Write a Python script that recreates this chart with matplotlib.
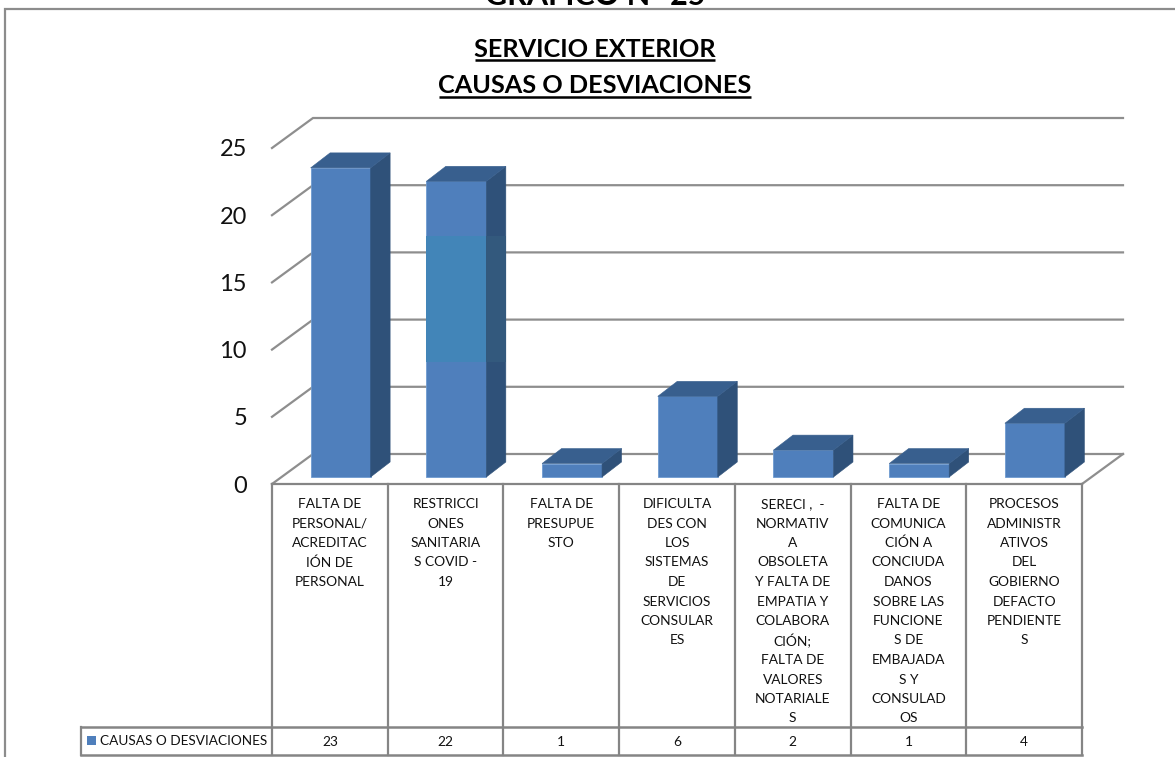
import matplotlib
matplotlib.use("Agg")
import matplotlib.pyplot as plt
from matplotlib.patches import Polygon, Rectangle
from matplotlib.transforms import blended_transform_factory

plt.rcParams['font.family'] = ['Lato', 'DejaVu Sans']

categories = [
    "FALTA DE\nPERSONAL/\nACREDITAC\nIÓN DE\nPERSONAL",
    "RESTRICCI\nONES\nSANITARIA\nS COVID -\n19",
    "FALTA DE\nPRESUPUE\nSTO",
    "DIFICULTA\nDES CON\nLOS\nSISTEMAS\nDE\nSERVICIOS\nCONSULAR\nES",
    "SERECI ,  -\nNORMATIV\nA\nOBSOLETA\nY FALTA DE\nEMPATIA Y\nCOLABORA\nCIÓN;\nFALTA DE\nVALORES\nNOTARIALE\nS",
    "FALTA DE\nCOMUNICA\nCIÓN A\nCONCIUDA\nDANOS\nSOBRE LAS\nFUNCIONE\nS DE\nEMBAJADA\nS Y\nCONSULAD\nOS",
    "PROCESOS\nADMINISTR\nATIVOS\nDEL\nGOBIERNO\nDEFACTO\nPENDIENTE\nS",
]
values = [23, 22, 1, 6, 2, 1, 4]
series_name = "CAUSAS O DESVIACIONES"
y_ticks = [0, 5, 10, 15, 20, 25]
heading = "GRAFICO N° 25"
title_lines = ["SERVICIO EXTERIOR", "CAUSAS O DESVIACIONES"]

W, H = 1175, 757
fig = plt.figure(figsize=(W / 100, H / 100), dpi=100, facecolor="white")

# overlay in image pixels for frame, table and titles
ov = fig.add_axes([0, 0, 1, 1], zorder=3)
ov.set_xlim(0, W)
ov.set_ylim(H, 0)
ov.axis("off")
ov.patch.set_alpha(0)

# plotting axes: front plane of the chart
L, R, Y0, Y25 = 272, 1082, 484, 148
ax = fig.add_axes([L / W, 1 - Y0 / H, (R - L) / W, (Y0 - Y25) / H], zorder=2)
ax.set_xlim(0, len(values))
ax.set_ylim(0, 25)
ax.patch.set_alpha(0)
for s in ax.spines.values():
    s.set_visible(False)
ax.set_xticks([])
ax.set_yticks(y_ticks)
ax.tick_params(axis="y", length=0, pad=18, labelsize=17, labelcolor="#111111")

px_x = len(values) / (R - L)
px_y = 25 / (Y0 - Y25)
wall_dx, wall_dy = 41 * px_x, 30 * px_y
bar_dx, bar_dy = 19.5 * px_x, 15 * px_y
inset = 7 * px_y
bar_w = 60 * px_x
bar_off = 0.593

GRID = "#8e8e8e"
FRONT, SIDE, TOP = "#4f7fbc", "#2f5179", "#385f8e"
BAND_FRONT, BAND_SIDE = "#4285b8", "#33597d"

# walls and floor
for t in y_ticks:
    ax.plot([0, wall_dx, len(values) + wall_dx], [t, t + wall_dy, t + wall_dy],
            color=GRID, lw=1.6, clip_on=False, zorder=1, solid_joinstyle="miter")
ax.plot([len(values) + wall_dx, len(values)], [wall_dy, 0], color=GRID, lw=1.6,
        clip_on=False, zorder=1)

# bars
for i, v in enumerate(values):
    x0 = i + bar_off - bar_w / 2
    x1 = x0 + bar_w
    b, t = inset, inset + v
    ax.bar(i + bar_off, v, width=bar_w, bottom=inset, color=FRONT,
           edgecolor="#6f9bd0", linewidth=0.6, zorder=4, clip_on=False)
    ax.add_patch(Polygon([(x1, b), (x1 + bar_dx, b + bar_dy), (x1 + bar_dx, t + bar_dy), (x1, t)],
                         closed=True, facecolor=SIDE, edgecolor=SIDE, lw=0.4, zorder=4, clip_on=False))
    ax.add_patch(Polygon([(x0, t), (x0 + bar_dx, t + bar_dy), (x1 + bar_dx, t + bar_dy), (x1, t)],
                         closed=True, facecolor=TOP, edgecolor=TOP, lw=0.4, zorder=4, clip_on=False))

# lighter band visible on the second bar
band_lo, band_hi = 8.56, 17.93
x1b = 1 + bar_off + bar_w / 2
ax.bar(1 + bar_off, band_hi - band_lo, width=bar_w, bottom=band_lo + inset, color=BAND_FRONT, zorder=5)
ax.add_patch(Rectangle((x1b, band_lo + inset), bar_dx, band_hi - band_lo,
                       facecolor=BAND_SIDE, edgecolor="none", zorder=5))

# table
T_TOP, T_ROW, T_BOT, T_LEFT = 484, 727, 755, 81
TC = "#858585"
edges = [L + k * (R - L) / len(values) for k in range(len(values) + 1)]
ov.plot([L, R], [T_TOP, T_TOP], color=TC, lw=1.6)
for e in edges:
    ov.plot([e, e], [T_TOP, T_BOT], color=TC, lw=1.6)
for y in (T_ROW, T_BOT):
    ov.plot([T_LEFT, R], [y, y], color=TC, lw=1.8)
ov.plot([T_LEFT, T_LEFT], [T_ROW, T_BOT], color=TC, lw=1.6)

TXT = "#111111"
tr = blended_transform_factory(ax.transData, ov.transData)
for i, (c, v) in enumerate(zip(categories, values)):
    for k, line in enumerate(c.split("\n")):
        ax.text(i + 0.5, 503 + 19.5 * k, line, transform=tr, ha="center", va="center_baseline",
                fontsize=9.9, color=TXT, clip_on=False, zorder=6)
    ax.text(i + 0.5, 741, str(v), transform=tr, ha="center", va="center_baseline", fontsize=9.9,
            color=TXT, clip_on=False, zorder=6)

ov.add_patch(Rectangle((87, 736), 9, 9, facecolor=FRONT, edgecolor="none"))
ov.text(100, 740, series_name, ha="left", va="center_baseline", fontsize=9.8, color=TXT)

# frame
ov.plot([5, 5, W], [H, 9, 9], color="#8c8c8c", lw=1.6, solid_joinstyle="miter")

# headings
ov.text(595, 5, heading, ha="center", va="baseline", fontsize=22, fontweight="bold", color="black", clip_on=True)
ov.text(595, 57, title_lines[0], ha="center", va="baseline", fontsize=18.2, fontweight="bold", color="black")
ov.text(595, 93, title_lines[1], ha="center", va="baseline", fontsize=18.2, fontweight="bold", color="black")
ov.plot([475, 715], [60, 60], color="black", lw=1.8, solid_capstyle="butt")
ov.plot([439, 751], [96.5, 96.5], color="black", lw=1.8, solid_capstyle="butt")

fig.savefig("out.png", dpi=100)
